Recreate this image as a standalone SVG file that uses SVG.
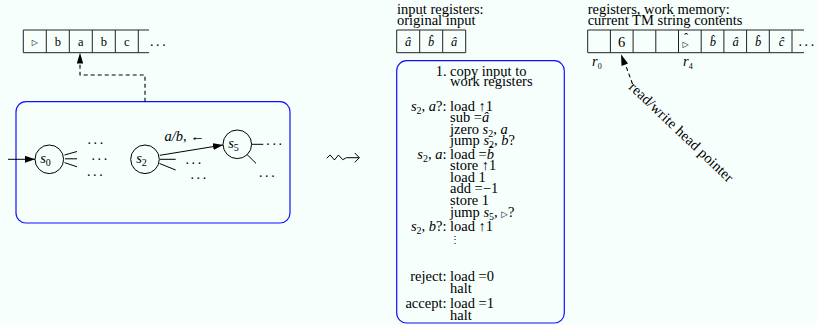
<svg xmlns="http://www.w3.org/2000/svg" width="817" height="325" viewBox="0 0 817 325">
  <style>
    .t { font-family: "Liberation Serif", serif; font-size: 14.5px; fill: #000; }
    .sm { font-size: 12.5px; }
    .m { font-style: italic; }
    .dots { font-size: 14px; letter-spacing: 2.6px; }
    .tri { font-family: "DejaVu Sans", sans-serif; font-size: 8px; }
    .tape { fill: none; stroke: #222; stroke-width: 1; }
    .box { fill: none; stroke: #1010ff; stroke-width: 1.2; }
    .st { fill: none; stroke: #000; stroke-width: 1; }
    .ln { fill: none; stroke: #000; stroke-width: 1; }
    .dash { fill: none; stroke: #000; stroke-width: 1.1; stroke-dasharray: 4 3; }
  </style>
  <defs>
    <marker id="ah" markerUnits="userSpaceOnUse" markerWidth="11" markerHeight="8" refX="10" refY="3.5" orient="auto">
      <path d="M0,0 L10,3.5 L0,7 z" fill="#000"/>
    </marker>
  </defs>
  <rect width="817" height="325" fill="#f7fffd"/>

  <!-- Turing machine tape -->
  <g id="tm-tape">
    <path class="tape" d="M23.3,30 H149 M23.3,52.7 H149 M23.3,30 V52.7 M46.3,30 V52.7 M69.3,30 V52.7 M92.3,30 V52.7 M115.3,30 V52.7 M138.3,30 V52.7"/>
    <text class="t tri" x="34.8" y="45" text-anchor="middle">▷</text>
    <text class="t sm" x="57.8" y="45.5" text-anchor="middle">b</text>
    <text class="t sm" x="80.8" y="45.5" text-anchor="middle">a</text>
    <text class="t sm" x="103.8" y="45.5" text-anchor="middle">b</text>
    <text class="t sm" x="126.8" y="45.5" text-anchor="middle">c</text>
    <text class="t dots" x="150" y="45.5">...</text>
  </g>

  <!-- Finite control -->
  <g id="tm-control">
    <rect class="box" x="16" y="101.7" width="274" height="121.3" rx="10"/>
  </g>
  <g id="s0">
    <circle class="st" cx="49.3" cy="159.3" r="14.3"/>
    <text class="t m" x="45.5" y="163" font-size="15.5" text-anchor="middle">s<tspan dy="3" font-size="10" font-style="normal">0</tspan></text>
    <path class="ln" d="M64.5,155 L77,151.5 M65,158.8 H77 M64.5,162.6 L77,166.8"/>
    <text class="t dots" x="87.5" y="144">...</text>
    <text class="t dots" x="91.5" y="160">...</text>
    <text class="t dots" x="87" y="175.5">...</text>
  </g>
  <g id="s2">
    <circle class="st" cx="145" cy="159.3" r="14.3"/>
    <text class="t m" x="141.5" y="163" font-size="15.5" text-anchor="middle">s<tspan dy="3" font-size="10" font-style="normal">2</tspan></text>
    <path class="ln" d="M160,159.3 H175.7 M159.5,163.5 L175.7,170"/>
    <text class="t dots" x="185.5" y="163.5">...</text>
    <text class="t dots" x="190.5" y="179">...</text>
  </g>
  <g id="s5">
    <circle class="st" cx="237.3" cy="144.3" r="14.3"/>
    <text class="t m" x="233.5" y="148" font-size="15.5" text-anchor="middle">s<tspan dy="3" font-size="10" font-style="normal">5</tspan></text>
    <path class="ln" d="M251.6,144.3 H263.3 M247,154.5 L256,163.3"/>
    <text class="t dots" x="266.3" y="145">...</text>
    <text class="t dots" x="259" y="176.5">...</text>
  </g>

  <!-- Connectors -->
  <g id="connectors">
    <path class="dash" d="M145,101.7 V75 H80 V64"/>
    <path d="M80,52.7 L76.8,63.5 L83.2,63.5 z" fill="#000"/>
    <path class="ln" d="M8,159.3 H35" marker-end="url(#ah)"/>
    <path class="ln" d="M159.8,155.3 L223,145" marker-end="url(#ah)"/>
    <text class="t m" x="164.5" y="141" font-size="16">a/b<tspan font-style="normal">, ←</tspan></text>
    <path class="dash" d="M632.5,84 L624.5,62"/>
    <path d="M621,54.3 L621.5,66 L628,63.5 z" fill="#000"/>
  </g>

  <!-- Leads-to symbol -->
  <g id="leadsto">
    <polyline class="ln" stroke-width="1.2" points="326.7,158.3 330.2,155 334.4,160 338.5,155 342.7,159.7 346.5,157.7 359.3,157.7"/>
    <polyline class="ln" stroke-width="1.2" points="354.8,153 359.3,157.7 354.8,162.4"/>
  </g>

  <!-- Input registers -->
  <g id="input-registers">
    <text class="t" x="397" y="14">input registers:</text>
    <text class="t" x="397" y="25">original input</text>
    <path class="tape" d="M396.7,30 H465.7 M396.7,52.7 H465.7 M396.7,30 V52.7 M419.7,30 V52.7 M442.7,30 V52.7 M465.7,30 V52.7"/>
    <text class="t sm m" x="408.2" y="45.5" text-anchor="middle">â</text>
    <text class="t sm m" x="431.2" y="46" text-anchor="middle">b̂</text>
    <text class="t sm m" x="454.2" y="45.5" text-anchor="middle">â</text>
  </g>

  <!-- RAM program -->
  <g id="program">
    <rect class="box" x="396.7" y="60.7" width="167.6" height="262.3" rx="10"/>
    <g class="t" text-anchor="end">
      <text x="446.5" y="76">1.</text>
      <text x="446.5" y="110.5"><tspan class="m">s</tspan><tspan dy="3" font-size="10">2</tspan><tspan dy="-3">, </tspan><tspan class="m">a</tspan>?:</text>
      <text x="446.5" y="158.5"><tspan class="m">s</tspan><tspan dy="3" font-size="10">2</tspan><tspan dy="-3">, </tspan><tspan class="m">a</tspan>:</text>
      <text x="446.5" y="231"><tspan class="m">s</tspan><tspan dy="3" font-size="10">2</tspan><tspan dy="-3">, </tspan><tspan class="m">b</tspan>?:</text>
      <text x="446.5" y="280.5">reject:</text>
      <text x="446.5" y="308">accept:</text>
    </g>
    <g class="t">
      <text x="450" y="76">copy input to</text>
      <text x="450" y="86">work registers</text>
      <text x="450" y="110.5">load ↑1</text>
      <text x="450" y="122">sub =<tspan class="m">â</tspan></text>
      <text x="450" y="133.5">jzero <tspan class="m">s</tspan><tspan dy="3" font-size="10">2</tspan><tspan dy="-3">, </tspan><tspan class="m">a</tspan></text>
      <text x="450" y="145">jump <tspan class="m">s</tspan><tspan dy="3" font-size="10">2</tspan><tspan dy="-3">, </tspan><tspan class="m">b</tspan>?</text>
      <text x="450" y="158.5">load =<tspan class="m">b̂</tspan></text>
      <text x="450" y="170">store ↑1</text>
      <text x="450" y="181.5">load 1</text>
      <text x="450" y="193">add =−1</text>
      <text x="450" y="204.5">store 1</text>
      <text x="450" y="216.5">jump <tspan class="m">s</tspan><tspan dy="3" font-size="10">5</tspan><tspan dy="-3">, </tspan><tspan font-family="DejaVu Sans" font-size="8.5">▷</tspan>?</text>
      <text x="450" y="231">load ↑1</text>
      <text x="450" y="243" font-size="10">⋮</text>
      <text x="450" y="280.5">load =0</text>
      <text x="450" y="292.5">halt</text>
      <text x="450" y="308">load =1</text>
      <text x="450" y="319.5">halt</text>
    </g>
  </g>

  <!-- Work registers -->
  <g id="work-registers">
    <text class="t" x="587.7" y="14">registers, work memory:</text>
    <text class="t" x="587.7" y="25">current TM string contents</text>
    <path class="tape" d="M587.7,30 H804 M587.7,52.7 H804 M587.7,30 V52.7 M610.4,30 V52.7 M633.1,30 V52.7 M655.8,30 V52.7 M678.5,30 V52.7 M701.2,30 V52.7 M723.9,30 V52.7 M746.6,30 V52.7 M769.3,30 V52.7 M792,30 V52.7"/>
    <text class="t" x="621.7" y="47" font-size="15.5" text-anchor="middle">6</text>
    <text class="t tri" x="685.5" y="46.5" text-anchor="middle">▷</text>
    <text class="t sm" x="686" y="42" text-anchor="middle">ˆ</text>
    <text class="t sm m" x="712.8" y="46" text-anchor="middle">b̂</text>
    <text class="t sm m" x="735.5" y="45.5" text-anchor="middle">â</text>
    <text class="t sm m" x="758" y="46" text-anchor="middle">b̂</text>
    <text class="t sm m" x="781.5" y="45.5" text-anchor="middle">ĉ</text>
    <text class="t dots" x="798.5" y="45.5">...</text>
    <text class="t m" x="592" y="66" font-size="11.5">r<tspan dy="2.5" font-size="8" font-style="normal">0</tspan></text>
    <text class="t m" x="683" y="66" font-size="11.5">r<tspan dy="2.5" font-size="8" font-style="normal">4</tspan></text>
    <text class="t" x="628" y="88" font-size="13" transform="rotate(43.5 628 88)" textLength="138">read/write head pointer</text>
  </g>
</svg>
